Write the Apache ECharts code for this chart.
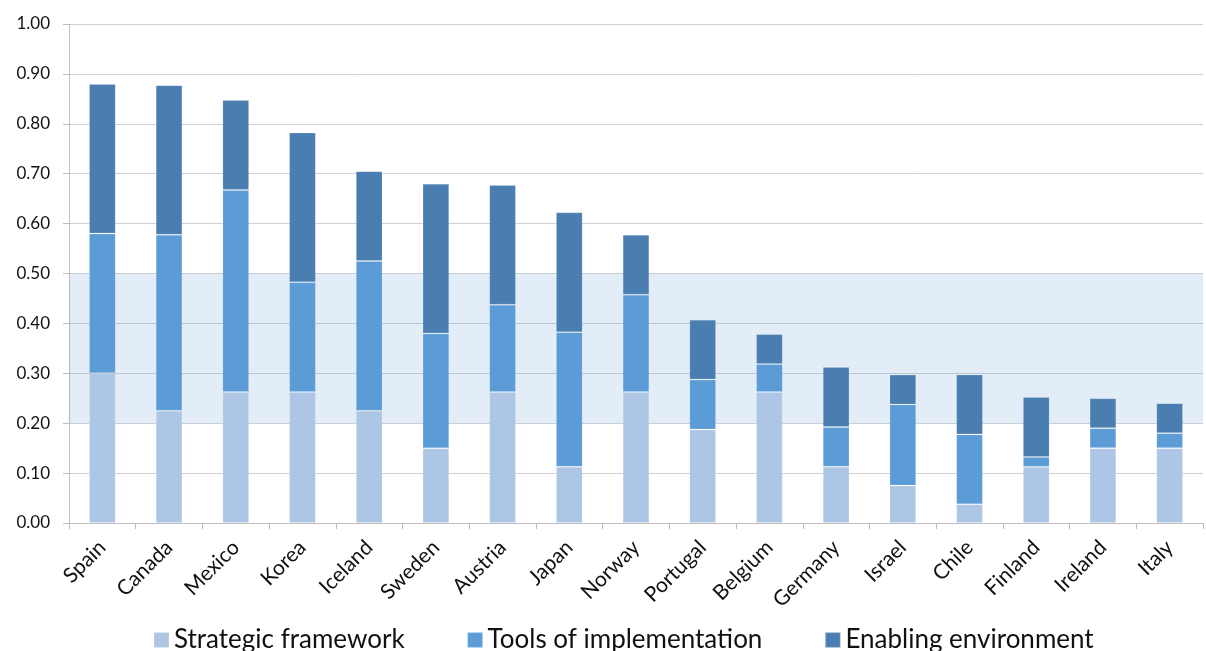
<!DOCTYPE html>
<html>
<head>
<meta charset="utf-8">
<script src="https://cdn.jsdelivr.net/npm/echarts@6/dist/echarts.min.js"></script>
<style>
  html, body { margin: 0; padding: 0; background: #fff; }
  #chart { width: 1206px; height: 651px; }
</style>
</head>
<body>
<div id="chart"></div>
<script>
// Countries, ordered by overall score
const countries = ['Spain', 'Canada', 'Mexico', 'Korea', 'Iceland', 'Sweden', 'Austria', 'Japan',
  'Norway', 'Portugal', 'Belgium', 'Germany', 'Israel', 'Chile', 'Finland', 'Ireland', 'Italy'];

// Component scores (stacked)
const strategicFramework = [0.30, 0.225, 0.2625, 0.2625, 0.225, 0.15, 0.2625, 0.1125,
  0.2625, 0.1875, 0.2625, 0.1125, 0.075, 0.0375, 0.1125, 0.15, 0.15];
const toolsOfImplementation = [0.28, 0.3525, 0.405, 0.22, 0.30, 0.23, 0.175, 0.27,
  0.195, 0.10, 0.056, 0.08, 0.1625, 0.14, 0.02, 0.04, 0.03];
const enablingEnvironment = [0.30, 0.30, 0.18, 0.30, 0.18, 0.30, 0.24, 0.24,
  0.12, 0.12, 0.06, 0.12, 0.06, 0.12, 0.12, 0.06, 0.06];

// Reference band on the value axis
const bandRange = [0.20, 0.50];
const yTicks = { min: 0, max: 1, interval: 0.1 };

const font = 'Lato, "Open Sans", "Liberation Sans", sans-serif';

const barStyle = (color) => ({
  color: color,
  borderColor: 'rgba(255,255,255,0.14)',
  borderWidth: 1
});

const chart = echarts.init(document.getElementById('chart'), null, { renderer: 'canvas' });

chart.setOption({
  animation: false,
  backgroundColor: '#ffffff',
  textStyle: { fontFamily: font },
  grid: { left: 69, right: 3, top: 24, bottom: 128, containLabel: false },
  legend: {
    top: 622,
    left: 148,
    itemWidth: 15,
    itemHeight: 15,
    itemGap: 62,
    icon: 'rect',
    textStyle: { fontSize: 26, color: '#111', fontFamily: font, padding: [0, 0, 0, 0] },
    data: ['Strategic framework', 'Tools of implementation', 'Enabling environment']
  },
  xAxis: {
    type: 'category',
    data: countries,
    axisLine: { lineStyle: { color: '#bfbfbf', width: 1 } },
    axisTick: { show: true, length: 6, lineStyle: { color: '#bfbfbf' } },
    axisLabel: { rotate: 45, fontSize: 21, color: '#111', margin: 21, interval: 0, fontFamily: font }
  },
  yAxis: {
    type: 'value',
    min: yTicks.min,
    max: yTicks.max,
    interval: yTicks.interval,
    axisLine: { show: true, lineStyle: { color: '#bfbfbf' } },
    axisTick: { show: true, length: 6, lineStyle: { color: '#bfbfbf' } },
    splitLine: { lineStyle: { color: '#d0d0d0', width: 1 } },
    axisLabel: {
      fontSize: 17, color: '#111', margin: 19, fontFamily: font,
      formatter: (v) => v.toFixed(2)
    }
  },
  series: [
    {
      name: 'Strategic framework', type: 'bar', stack: 'total', barWidth: '40%',
      itemStyle: barStyle('#adc6e5'), data: strategicFramework
    },
    {
      name: 'Tools of implementation', type: 'bar', stack: 'total', barWidth: '40%',
      itemStyle: barStyle('#5b9bd6'), data: toolsOfImplementation
    },
    {
      name: 'Enabling environment', type: 'bar', stack: 'total', barWidth: '40%',
      itemStyle: barStyle('#4a7eb0'), data: enablingEnvironment
    },
    {
      // translucent band laid over the bars
      name: 'band', type: 'line', data: [], z: 10, silent: true,
      markArea: {
        silent: true,
        itemStyle: { color: 'rgba(102,157,211,0.18)' },
        data: [[{ yAxis: bandRange[0] }, { yAxis: bandRange[1] }]]
      }
    }
  ]
});
</script>
</body>
</html>
